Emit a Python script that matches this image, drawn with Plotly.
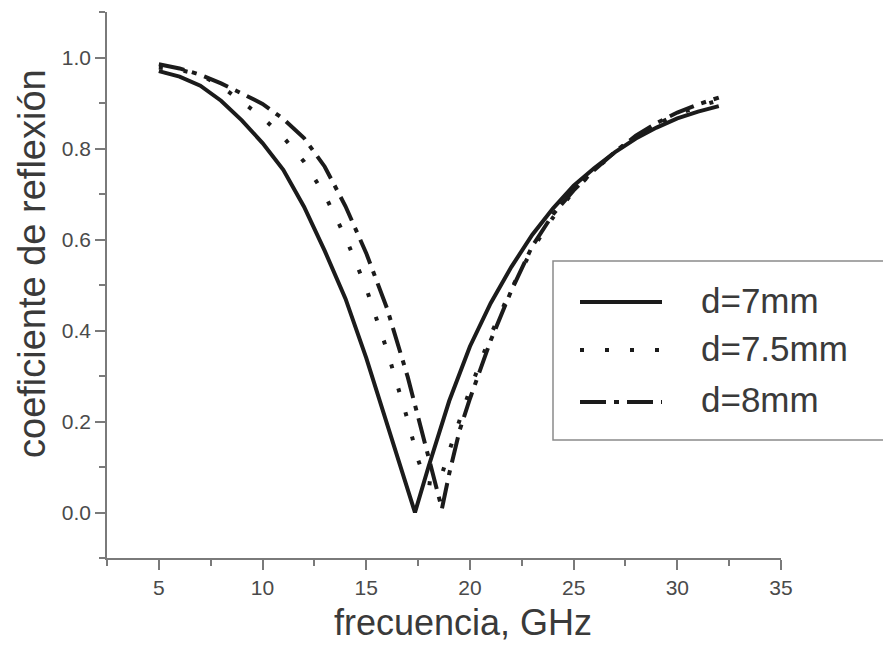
import plotly.graph_objects as go

# ---- data ----
freq_7mm = [5, 6, 7, 8, 9, 10, 11, 12, 13, 14, 15, 16, 17, 17.35, 18, 19, 20, 21, 22, 23, 24, 25, 26, 27, 28, 29, 30, 31, 32]
refl_7mm = [0.970, 0.958, 0.938, 0.905, 0.862, 0.812, 0.753, 0.672, 0.575, 0.470, 0.340, 0.195, 0.055, 0.0,
            0.100, 0.245, 0.365, 0.460, 0.540, 0.610, 0.668, 0.718, 0.757, 0.792, 0.822, 0.846, 0.866, 0.881, 0.893]

freq_7_5mm = [5, 6, 7, 8, 9, 10, 11, 12, 13, 14, 15, 16, 17, 17.5, 17.9, 18.5, 19, 19.5, 20, 21, 22, 23, 24, 25,
              26, 27, 28, 29, 30, 31, 32]
refl_7_5mm = [0.978, 0.973, 0.962, 0.937, 0.903, 0.868, 0.825, 0.771, 0.698, 0.605, 0.493, 0.357, 0.203, 0.116,
              0.065, 0.062, 0.135, 0.200, 0.270, 0.390, 0.492, 0.578, 0.648, 0.706, 0.752, 0.792, 0.826, 0.853,
              0.875, 0.892, 0.906]

freq_8mm = [5, 6, 7, 8, 9, 10, 11, 12, 13, 14, 15, 16, 17, 17.5, 18, 18.65, 19, 19.5, 20, 21, 22, 23, 24, 25,
            26, 27, 28, 29, 30, 31, 32]
refl_8mm = [0.985, 0.976, 0.962, 0.943, 0.921, 0.898, 0.865, 0.823, 0.760, 0.673, 0.570, 0.449, 0.298, 0.210,
            0.120, 0.008, 0.085, 0.180, 0.250, 0.378, 0.488, 0.585, 0.655, 0.708, 0.753, 0.793, 0.828, 0.856,
            0.879, 0.897, 0.912]

series_names = ["d=7mm", "d=7.5mm", "d=8mm"]
x_tick_vals = [5, 10, 15, 20, 25, 30, 35]
y_tick_vals = [0.0, 0.2, 0.4, 0.6, 0.8, 1.0]
x_title = "frecuencia, GHz"
y_title = "coeficiente de reflexión"

# ---- styling ----
INK = "#1b1b1b"
AXIS = "#7a7a7a"
TEXT = "#3a3a3a"
FONT = "Liberation Sans, Arial, sans-serif"
LW = 4
DASHES = ["solid", "4px,21px", "26px,8px,5px,8px"]

fig = go.Figure()
for name, xs, ys, dash in zip(series_names,
                              [freq_7mm, freq_7_5mm, freq_8mm],
                              [refl_7mm, refl_7_5mm, refl_8mm],
                              DASHES):
    fig.add_trace(go.Scatter(x=xs, y=ys, mode="lines", name=name,
                             line=dict(color=INK, width=LW, dash=dash),
                             showlegend=False, cliponaxis=False))

axis_common = dict(showline=True, linecolor=AXIS, linewidth=1.5, showgrid=False, zeroline=False,
                   ticks="outside", ticklen=10, tickwidth=1.5, tickcolor=AXIS,
                   tickfont=dict(family=FONT, size=21, color="#4a4a4a"), mirror=False)

fig.update_xaxes(range=[2.5, 35], tickvals=x_tick_vals,
                 minor=dict(ticks="outside", ticklen=6, tickwidth=1.5, tickcolor=AXIS, dtick=2.5, tick0=0),
                 **axis_common)
fig.update_yaxes(range=[-0.1, 1.1], tickvals=y_tick_vals, tickformat=".1f",
                 minor=dict(ticks="outside", ticklen=6, tickwidth=1.5, tickcolor=AXIS, dtick=0.1, tick0=0),
                 **axis_common)

# ---- page-pixel helpers for paper coordinates ----
L, R, T, B = 107, 781, 12, 558
def px(xp):
    return (xp - L) / (R - L)
def py(yp):
    return (B - yp) / (B - T)

annotations = [
    dict(xref="paper", yref="paper", x=px(463), y=py(622), text=x_title, showarrow=False,
         xanchor="center", yanchor="middle", font=dict(family=FONT, size=36, color=TEXT)),
    dict(xref="paper", yref="paper", x=px(32), y=py(264), text=y_title, showarrow=False, textangle=-90,
         xanchor="center", yanchor="middle", font=dict(family=FONT, size=38, color=TEXT)),
]

# ---- legend box drawn in paper coordinates ----
shapes = [dict(type="rect", xref="paper", yref="paper", x0=px(553), x1=px(900), y0=py(440), y1=py(261),
               line=dict(color="#8a8a8a", width=1.5), fillcolor="rgba(0,0,0,0)")]
for name, dash, row in zip(series_names, DASHES, [302, 350, 402]):
    shapes.append(dict(type="line", xref="paper", yref="paper", x0=px(580), x1=px(662), y0=py(row), y1=py(row),
                       line=dict(color=INK, width=LW, dash=dash)))
    annotations.append(dict(xref="paper", yref="paper", x=px(699), y=py(row - 2), text=name, showarrow=False,
                            xanchor="left", yanchor="middle", font=dict(family=FONT, size=35, color=TEXT)))

fig.update_layout(width=883, height=646, paper_bgcolor="white", plot_bgcolor="white",
                  margin=dict(l=L, r=883 - R, t=T, b=646 - B, autoexpand=False),
                  showlegend=False, shapes=shapes, annotations=annotations,
                  font=dict(family=FONT))

fig.write_html("out.html", config={"displayModeBar": False},
               post_script="document.body.style.margin='0';document.body.style.overflow='hidden';")
